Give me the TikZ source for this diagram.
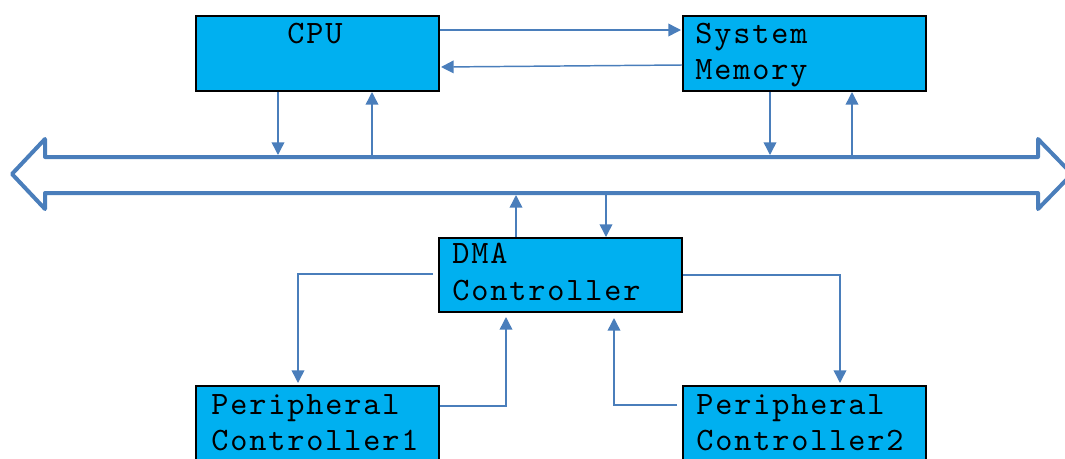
\documentclass[tikz,border=0pt]{standalone}
\usepackage{fontspec}
\setmonofont{lmmono10-regular.otf}[LetterSpace=5.7]
\usetikzlibrary{calc,arrows.meta}
\definecolor{boxfill}{HTML}{00B0F0}
\definecolor{linkblue}{HTML}{4A7EBB}
\begin{document}
\begin{tikzpicture}[x=0.75pt,y=-0.75pt,
  unitbox/.style={draw=black,line width=1.5pt,fill=boxfill,rectangle,
    minimum width=182.25pt,inner sep=0pt,anchor=north west},
  lbl/.style={inner sep=0pt,anchor=base west,
    font=\ttfamily\fontsize{24.5}{27}\selectfont},
  conn/.style={draw=linkblue,line width=1.1pt,
    -{Triangle[length=9.5pt,width=9.5pt]}},
  busline/.style={draw=linkblue,line width=3pt,line join=round}]
\useasboundingbox (0,0) rectangle (1065,458);
\clip (0,0) rectangle (1065,458);

% system bus: hollow double-headed arrow
\draw[busline] (12,174) -- (45,139) -- (45,157) -- (1038,157) -- (1038,139)
  -- (1072,174) -- (1038,209) -- (1038,193) -- (45,193) -- (45,209) -- cycle;
\coordinate (btop) at (0,155);
\coordinate (bbot) at (0,195);

% units
\node[unitbox,minimum height=56.25pt] (cpu) at (195,15) {};
\node[unitbox,minimum height=56.25pt] (mem) at (682,15) {};
\node[unitbox,minimum height=55.5pt] (dma) at (438,237) {};
\node[unitbox,minimum height=75pt] (p1) at (195,385) {};
\node[unitbox,minimum height=75pt] (p2) at (682,385) {};

% labels
\node[lbl] (cput) at (287,43) {CPU};
\node[lbl] (memt1) at (695,43) {System};
\node[lbl] (memt2) at (695,79) {Memory};
\node[lbl] (dmat1) at (452,263) {DMA};
\node[lbl] (dmat2) at (452,300) {Controller};
\node[lbl] (p1t1) at (211,414) {Peripheral};
\node[lbl] (p1t2) at (211,450) {Controller1};
\node[lbl] (p2t1) at (696,414) {Peripheral};
\node[lbl] (p2t2) at (696,450) {Controller2};

% CPU <-> memory
\draw[conn] ($(cpu.north east)+(0,15)$) -- ($(mem.north west)+(-1,15)$);
\draw[conn] ($(mem.north west)+(0,50)$) -- ($(cpu.north east)+(1,52)$);

% CPU <-> bus
\path ($(cpu.south west)+(83,0)$) coordinate (cd)
      ($(cpu.south west)+(177,0)$) coordinate (cu);
\draw[conn] (cd) -- (cd |- btop);
\draw[conn] (cu |- btop) -- (cu);

% memory <-> bus
\path ($(mem.south west)+(88,0)$) coordinate (md)
      ($(mem.south west)+(170,0)$) coordinate (mu);
\draw[conn] (md) -- (md |- btop);
\draw[conn] (mu |- btop) -- (mu);

% DMA <-> bus
\path ($(dma.north west)+(78,0)$) coordinate (du)
      ($(dma.north west)+(168,0)$) coordinate (dd);
\draw[conn] (du) -- (du |- bbot);
\draw[conn] (dd |- bbot) -- (dd);

% DMA <-> peripheral controllers
\draw[conn] ($(dma.west)+(-5,-1)$) -| ($(p1.north west)+(103,-2)$);
\draw[conn] ($(p1.north east)+(0,21)$) -| ($(dma.south west)+(68,4)$);
\draw[conn] ($(p2.north west)+(-5,20)$) -| ($(dma.south west)+(176,5)$);
\draw[conn] (dma.east) -| ($(p2.north west)+(158,-2)$);
\end{tikzpicture}
\end{document}
